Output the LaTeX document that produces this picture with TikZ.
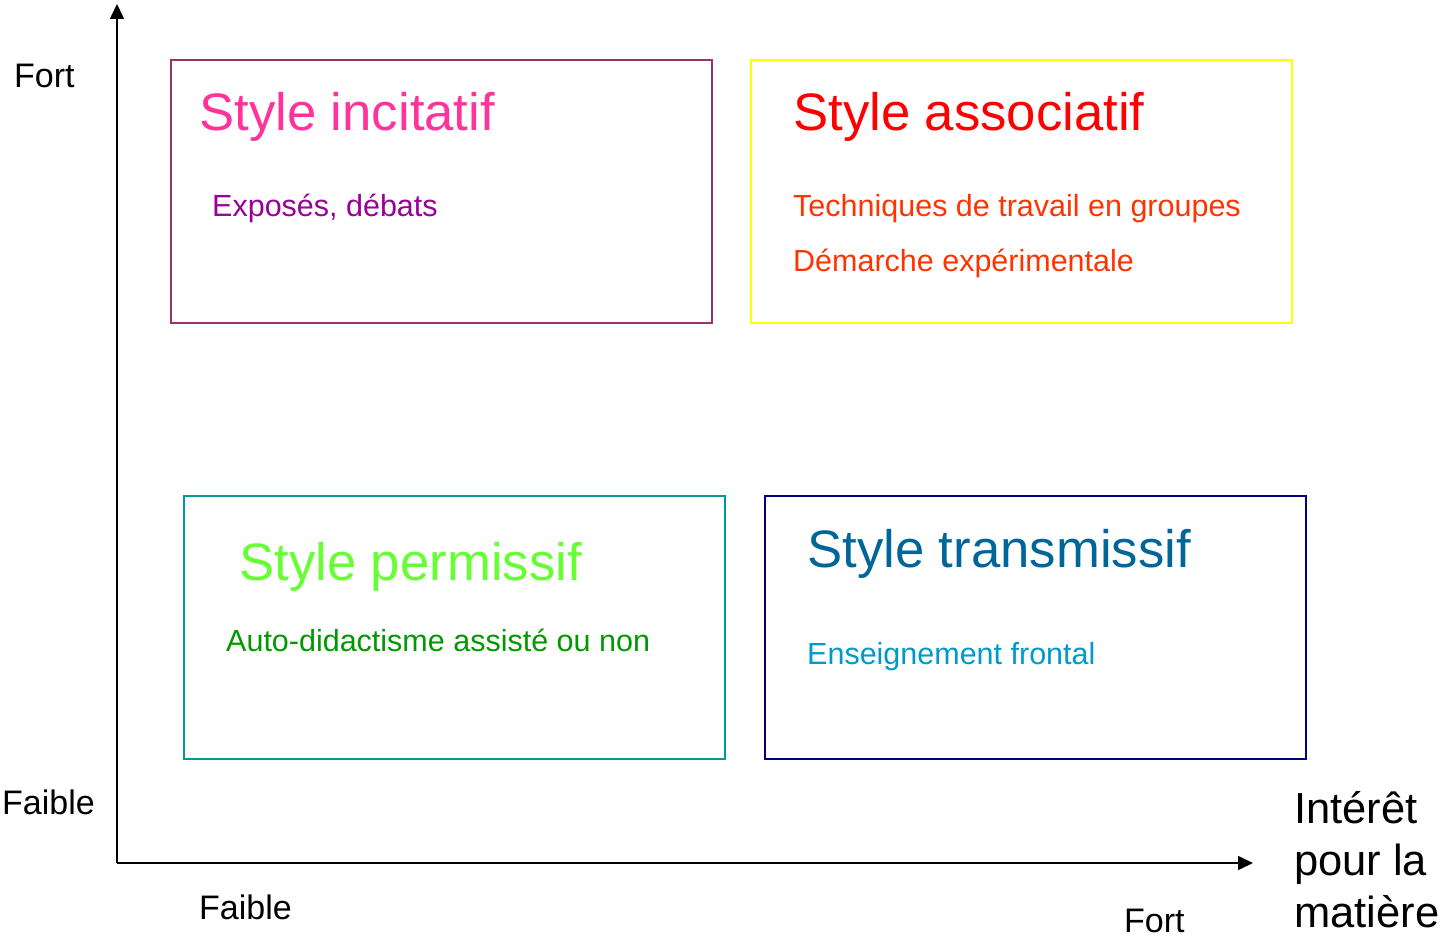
\documentclass[tikz,border=0pt]{standalone}
\usepackage{fontspec}
\setmainfont{Liberation Sans}
\usetikzlibrary{arrows.meta}
\definecolor{cIncB}{HTML}{993366}
\definecolor{cIncT}{HTML}{FF3399}
\definecolor{cIncS}{HTML}{990099}
\definecolor{cAssB}{HTML}{FFFF00}
\definecolor{cAssT}{HTML}{FF0000}
\definecolor{cAssS}{HTML}{FF3300}
\definecolor{cPerB}{HTML}{009999}
\definecolor{cPerT}{HTML}{66FF33}
\definecolor{cPerS}{HTML}{009900}
\definecolor{cTraB}{HTML}{000080}
\definecolor{cTraT}{HTML}{006699}
\definecolor{cTraS}{HTML}{0099CC}
\tikzset{
  quad/.style={draw, line width=1.6pt, minimum width=541pt, minimum height=263pt, anchor=north west, inner sep=0pt},
  ttl/.style={anchor=base west, inner sep=0pt, font=\fontsize{52.7}{60}\selectfont},
  sub/.style={anchor=base west, inner sep=0pt, font=\fontsize{30.5}{36}\selectfont},
  axlab/.style={anchor=base west, inner sep=0pt, font=\fontsize{34}{40}\selectfont},
  axis/.style={line width=1.6pt, -{Triangle[width=14pt,length=15pt]}}
}
\begin{document}
\begin{tikzpicture}[x=1pt,y=-1pt]
\useasboundingbox (0,0) rectangle (1451,939);
% boxes
\node[quad, draw=cIncB] (binc) at (170,59) {};
\node[quad, draw=cAssB] (bass) at (750,59) {};
\node[quad, draw=cPerB] (bper) at (183,495) {};
\node[quad, draw=cTraB] (btra) at (764,495) {};
% titles
\node[ttl, text=cIncT] (tinc) at (199,131) {Style incitatif};
\node[sub, text=cIncS] (sinc) at (212,216) {Exposés, débats};
\node[ttl, text=cAssT] (tass) at (793,131) {Style associatif};
\node[sub, text=cAssS] (sass1) at (793,216) {Techniques de travail en groupes};
\node[sub, text=cAssS] (sass2) at (793,271) {Démarche expérimentale};
\node[ttl, text=cPerT] (tper) at (239,580) {Style permissif};
\node[sub, text=cPerS] (sper) at (226,651) {Auto-didactisme assisté ou non};
\node[ttl, text=cTraT] (ttra) at (807,567) {Style transmissif};
\node[sub, text=cTraS] (stra) at (807,664) {Enseignement frontal};
% axes
\coordinate (origin) at (117,863);
\coordinate (ytop) at (117,4);
\coordinate (xend) at (1253,863);
\draw[axis] (origin) -- (ytop);
\draw[axis] (origin) -- (xend);
% axis labels
\node[axlab] (yfort) at (14,88) {Fort};
\node[axlab] (yfaible) at (2,814) {Faible};
\node[axlab] (xfaible) at (199,919) {Faible};
\node[axlab] (xfort) at (1124,932) {Fort};
\node[anchor=base west, inner sep=0pt, align=left, font=\fontsize{43.5}{52}\selectfont] (xlab) at (1294,927) {Intérêt\\pour la\\matière};
\end{tikzpicture}
\end{document}
